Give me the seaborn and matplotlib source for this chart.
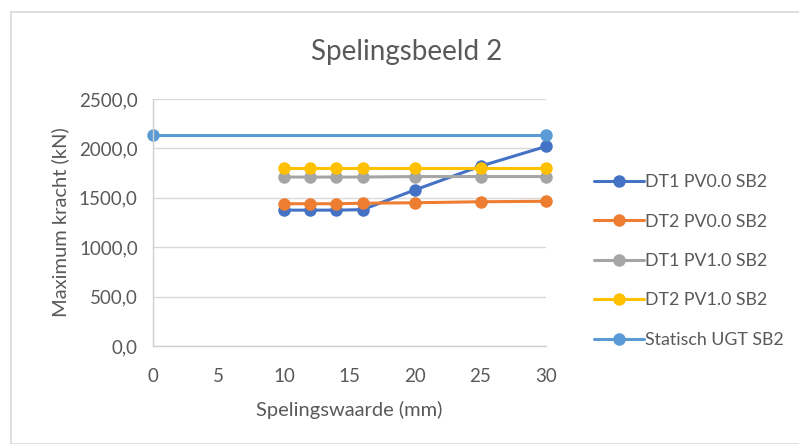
import matplotlib
matplotlib.use("Agg")
import matplotlib.pyplot as plt
import seaborn as sns
import pandas as pd
from matplotlib.ticker import FuncFormatter
from matplotlib.patches import Rectangle

# Data
speling = [10, 12, 14, 16, 20, 25, 30]
dt1_pv00 = [1375, 1375, 1375, 1380, 1580, 1820, 2020]
dt2_pv00 = [1440, 1440, 1440, 1445, 1450, 1460, 1465]
dt1_pv10 = [1710, 1710, 1710, 1710, 1715, 1715, 1715]
dt2_pv10 = [1805, 1805, 1805, 1805, 1805, 1805, 1805]
statisch_x = [0, 30]
statisch_y = [2140, 2140]

series_names = ["DT1 PV0.0 SB2", "DT2 PV0.0 SB2", "DT1 PV1.0 SB2", "DT2 PV1.0 SB2", "Statisch UGT SB2"]
colors = ["#4472C4", "#ED7D31", "#A5A5A5", "#FFC000", "#5B9BD5"]

frames = []
for name, xs, ys in zip(series_names,
                        [speling, speling, speling, speling, statisch_x],
                        [dt1_pv00, dt2_pv00, dt1_pv10, dt2_pv10, statisch_y]):
    frames.append(pd.DataFrame({"x": xs, "y": ys, "serie": name}))
df = pd.concat(frames, ignore_index=True)

sns.set_theme(style="white")
plt.rcParams["font.family"] = ["Lato", "DejaVu Sans"]
text_color = "#595959"

fig = plt.figure(figsize=(7.99, 4.44), dpi=100)
ax = fig.add_axes([153/799, 1-346/444, (546-153)/799, (346-99)/444])

for name, col in zip(series_names, colors):
    sub = df[df["serie"] == name]
    sns.lineplot(data=sub, x="x", y="y", ax=ax, color=col, marker="o",
                 markersize=9, markeredgewidth=0, linewidth=2.2, label=name,
                 sort=False, estimator=None)
for ln in ax.get_lines():
    ln.set_clip_on(False)

ax.set_xlim(0, 30)
ax.set_ylim(0, 2500)
ax.set_xticks(range(0, 31, 5))
ax.set_yticks(range(0, 2501, 500))
ax.yaxis.set_major_formatter(FuncFormatter(lambda v, p: f"{v:.1f}".replace(".", ",")))
ax.grid(axis="y", color="#D9D9D9", linewidth=1)
ax.set_axisbelow(True)
for s in ["top", "right"]:
    ax.spines[s].set_visible(False)
for s in ["left", "bottom"]:
    ax.spines[s].set_color("#D0D0D0")
    ax.spines[s].set_linewidth(1)
ax.tick_params(axis="both", length=0, labelsize=13.5, colors=text_color)
ax.tick_params(axis="x", pad=16)
ax.tick_params(axis="y", pad=11)

ax.set_xlabel("Spelingswaarde (mm)", fontsize=14.5, color=text_color, labelpad=11)
ax.set_ylabel("Maximum kracht (kN)", fontsize=14.5, color=text_color, labelpad=7)
fig.text(407/799, 1-52/444, "Spelingsbeeld 2", ha="center", va="center",
         fontsize=20, color=text_color)

leg = ax.legend(loc="center left", bbox_to_anchor=(587/799, 1-261/444),
                bbox_transform=fig.transFigure, frameon=False, fontsize=12.8,
                labelspacing=1.32, handlelength=2.8, handletextpad=0.05,
                borderaxespad=0)
for t in leg.get_texts():
    t.set_color(text_color)

fig.patches.append(Rectangle((11/799, 0), 1.0, 1-12/444, transform=fig.transFigure,
                             fill=False, edgecolor="#D9D9D9", linewidth=1.2))

fig.savefig("out.png", dpi=100)
